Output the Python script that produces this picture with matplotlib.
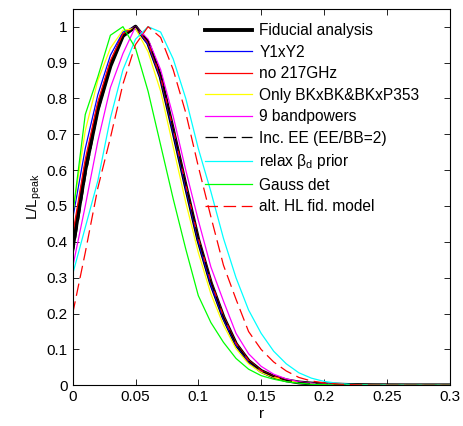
import matplotlib
matplotlib.use("Agg")
import matplotlib.pyplot as plt

plt.rcParams['font.family'] = ['Liberation Sans', 'DejaVu Sans']
plt.rcParams['mathtext.fontset'] = 'custom'
plt.rcParams['mathtext.rm'] = 'Liberation Sans'
plt.rcParams['mathtext.it'] = 'Liberation Sans:italic'

r = [0.00, 0.01, 0.02, 0.03, 0.04, 0.05, 0.06, 0.07, 0.08, 0.09, 0.10,
     0.11, 0.12, 0.13, 0.14, 0.15, 0.16, 0.17, 0.18, 0.19, 0.20,
     0.21, 0.22, 0.23, 0.24, 0.25, 0.26, 0.27, 0.28, 0.29, 0.30]

fiducial = [0.385, 0.60, 0.77, 0.89, 0.975, 1.0, 0.955, 0.86, 0.71, 0.555, 0.405,
            0.285, 0.19, 0.115, 0.068, 0.04, 0.024, 0.014, 0.008, 0.005, 0.003,
            0.002, 0.001, 0.0006, 0.0003, 0.0002, 0.0001, 0.0, 0.0, 0.0, 0.0]
y1xy2 = [0.465, 0.66, 0.81, 0.92, 0.985, 1.0, 0.95, 0.855, 0.705, 0.55, 0.40,
         0.28, 0.185, 0.112, 0.066, 0.039, 0.023, 0.013, 0.008, 0.005, 0.003,
         0.002, 0.001, 0.0006, 0.0003, 0.0002, 0.0001, 0.0, 0.0, 0.0, 0.0]
no217 = [0.42, 0.63, 0.79, 0.905, 0.98, 1.0, 0.955, 0.86, 0.715, 0.56, 0.41,
         0.29, 0.193, 0.117, 0.07, 0.041, 0.025, 0.015, 0.009, 0.005, 0.003,
         0.002, 0.001, 0.0006, 0.0003, 0.0002, 0.0001, 0.0, 0.0, 0.0, 0.0]
only_bk = [0.48, 0.71, 0.85, 0.94, 0.99, 0.995, 0.93, 0.82, 0.665, 0.51, 0.37,
           0.255, 0.168, 0.102, 0.06, 0.036, 0.022, 0.013, 0.008, 0.005, 0.003,
           0.002, 0.001, 0.0006, 0.0003, 0.0002, 0.0001, 0.0, 0.0, 0.0, 0.0]
nine_bp = [0.33, 0.50, 0.68, 0.83, 0.925, 1.0, 0.965, 0.88, 0.75, 0.60, 0.46,
           0.33, 0.235, 0.145, 0.088, 0.053, 0.031, 0.018, 0.01, 0.006, 0.003,
           0.002, 0.001, 0.0006, 0.0003, 0.0002, 0.0001, 0.0, 0.0, 0.0, 0.0]
inc_ee = [0.36, 0.58, 0.76, 0.885, 0.97, 1.0, 0.96, 0.865, 0.715, 0.56, 0.41,
          0.29, 0.19, 0.115, 0.068, 0.04, 0.024, 0.014, 0.008, 0.005, 0.003,
          0.002, 0.001, 0.0006, 0.0003, 0.0002, 0.0001, 0.0, 0.0, 0.0, 0.0]
relax_beta = [0.31, 0.44, 0.57, 0.745, 0.88, 0.965, 1.0, 0.985, 0.91, 0.80, 0.66,
              0.54, 0.41, 0.30, 0.21, 0.145, 0.095, 0.06, 0.035, 0.02, 0.011,
              0.006, 0.003, 0.0015, 0.0008, 0.0004, 0.0002, 0.0001, 0.0, 0.0, 0.0]
gauss_det = [0.474, 0.755, 0.86, 0.976, 1.0, 0.94, 0.82, 0.67, 0.52, 0.38, 0.25,
             0.175, 0.12, 0.075, 0.045, 0.027, 0.017, 0.01, 0.006, 0.003, 0.002,
             0.001, 0.0005, 0.0003, 0.0001, 0.0, 0.0, 0.0, 0.0, 0.0, 0.0]
alt_hl = [0.2, 0.37, 0.55, 0.69, 0.84, 0.95, 1.0, 0.97, 0.88, 0.76, 0.61,
          0.47, 0.335, 0.24, 0.15, 0.10, 0.065, 0.04, 0.022, 0.012, 0.007,
          0.004, 0.002, 0.001, 0.0005, 0.0002, 0.0001, 0.0, 0.0, 0.0, 0.0]

labels = ['Fiducial analysis', 'Y1xY2', 'no 217GHz', 'Only BKxBK&BKxP353',
          '9 bandpowers', 'Inc. EE (EE/BB=2)', r'relax β$_{\rm d}$ prior',
          'Gauss det', 'alt. HL fid. model']
x_ticks = [0, 0.05, 0.1, 0.15, 0.2, 0.25, 0.3]
x_ticklabels = ['0', '0.05', '0.1', '0.15', '0.2', '0.25', '0.3']
y_ticks = [0, 0.1, 0.2, 0.3, 0.4, 0.5, 0.6, 0.7, 0.8, 0.9, 1.0]
y_ticklabels = ['0', '0.1', '0.2', '0.3', '0.4', '0.5', '0.6', '0.7', '0.8', '0.9', '1']

fig = plt.figure(figsize=(4.63, 4.26), dpi=100)
ax = fig.add_axes([0.157, 0.0955, 0.814, 0.884])

series = [fiducial, y1xy2, no217, only_bk, nine_bp, inc_ee, relax_beta, gauss_det, alt_hl]
styles = [
    dict(color='black', lw=2.8),
    dict(color='#0000ff', lw=0.9),
    dict(color='#ff0000', lw=0.9),
    dict(color='#ffff00', lw=0.9),
    dict(color='#ff00ff', lw=0.9),
    dict(color='black', lw=0.9, dashes=(10, 4.5)),
    dict(color='#00ffff', lw=0.9),
    dict(color='#00ff00', lw=0.9),
    dict(color='#ff0000', lw=0.9, dashes=(10, 4.5)),
]
for s, lab, st in zip(series, labels, styles):
    ax.plot(r, s, label=lab, **st)

ax.set_xlim(0, 0.3)
ax.set_ylim(0, 1.05)
ax.set_xticks(x_ticks)
ax.set_xticklabels(x_ticklabels)
ax.set_yticks(y_ticks)
ax.set_yticklabels(y_ticklabels)
ax.tick_params(direction='in', top=True, right=True, labelsize=11, length=4, width=0.6)
for sp in ax.spines.values():
    sp.set_linewidth(0.8)
ax.set_xlabel('r', fontsize=11, labelpad=2)
ax.set_ylabel(r'L/L$_{\rm peak}$', fontsize=11, labelpad=2)

leg = ax.legend(loc='upper left', bbox_to_anchor=(0.351, 0.962), frameon=False,
                fontsize=11.2, handlelength=3.0, handletextpad=0.5,
                labelspacing=0.42, borderaxespad=0.0, borderpad=0.0)

fig.savefig('out.png', dpi=100)
